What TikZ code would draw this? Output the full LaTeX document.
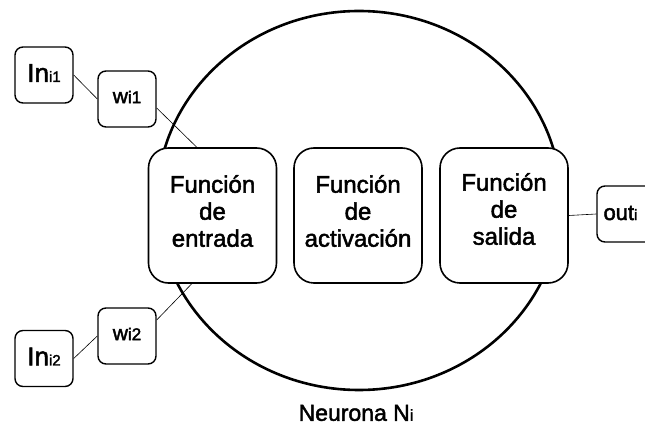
\documentclass[tikz,border=0pt]{standalone}
\usepackage{fontspec}
\setmainfont{Liberation Sans}[FakeBold=2]
\usetikzlibrary{calc}
\newcommand{\fsz}[1]{\fontsize{#1}{#1}\selectfont}
\begin{document}
\begin{tikzpicture}[x=1pt,y=-1pt,
  funbox/.style={draw, line width=1.6pt, fill=white, rounded corners=20pt,
    minimum width=128pt, minimum height=135pt, inner sep=0pt},
  smallbox/.style={draw, line width=1.4pt, fill=white, rounded corners=8pt,
    minimum width=58pt, minimum height=56pt, inner sep=0pt},
  funtext/.style={align=center, font=\fontsize{24}{27}\selectfont},
  wire/.style={line width=0.6pt}]
\useasboundingbox (0,0) rectangle (645,427);
\clip (0,0) rectangle (645,427);
\fill[white] (0,0) rectangle (645,427);

% neuron body
\draw[line width=2.6pt] (359,200.5) ellipse [x radius=202, y radius=189.5];
\node[font=\fsz{23}] (lbl) at (356,413) {Neurona N{\fsz{16}i}};

% boxes
\node[smallbox] (in1) at (44,75) {};
\node[smallbox] (w1) at (127,99) {};
\node[smallbox] (in2) at (44,358.5) {};
\node[smallbox] (w2) at (127,336) {};
\node[funbox] (entrada) at (212.5,215.5) {};
\node[funbox] (activ) at (358,215.5) {};
\node[funbox] (salida) at (504,215.5) {};
\node[smallbox, minimum width=70pt] (out) at (632,214) {};

% connectors
\coordinate (e1) at ($(entrada.north west)+(49,0)$);
\coordinate (e2) at ($(entrada.south west)+(44,0)$);
\draw[wire] (in1.east) -- (w1.west);
\draw[wire] (in2.east) -- (w2.west);
\draw[wire] ($(w1.east)+(0,9)$) -- (e1);
\draw[wire] ($(w2.east)+(0,-16)$) -- (e2);
\draw[wire] (salida.east) -- (out.west);

% texts
\node[funtext] (t1) at (212.5,211) {Función\\de\\entrada};
\node[funtext] (t2) at (358,211) {Función\\de\\activación};
\node[funtext] (t3) at (504,209) {Función\\de\\salida};
\node (tin1) at (44,73) {\fsz{26}In\fsz{15}i1};
\node (tw1) at (127,97) {\fsz{21}w\fsz{17}i1};
\node (tin2) at (44,356.5) {\fsz{26}In\fsz{15}i2};
\node (tw2) at (127,334) {\fsz{21}w\fsz{17}i2};
\node[anchor=west] (tout) at (600,213) {\fsz{22}out\fsz{15}i};
\end{tikzpicture}
\end{document}
